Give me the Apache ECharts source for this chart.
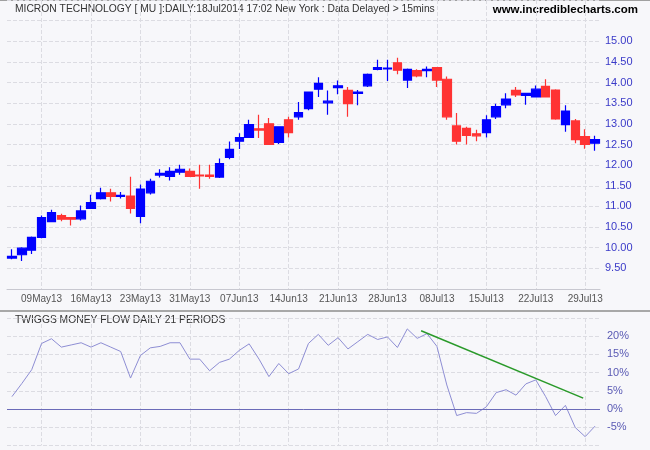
<!DOCTYPE html>
<html><head><meta charset="utf-8">
<script src="https://cdn.jsdelivr.net/npm/echarts@6/dist/echarts.min.js"></script>
<style>html,body{margin:0;padding:0;background:#f7f7fa}#c{width:650px;height:450px}</style>
</head><body><div id="c"></div>
<script>
const dates = ['06May13','07May13','08May13','09May13','10May13','13May13','14May13','15May13','16May13','17May13','20May13','21May13','22May13','23May13','24May13','28May13','29May13','30May13','31May13',
'03Jun13','04Jun13','05Jun13','06Jun13','07Jun13','10Jun13','11Jun13','12Jun13','13Jun13','14Jun13','17Jun13','18Jun13','19Jun13','20Jun13','21Jun13','24Jun13','25Jun13','26Jun13','27Jun13','28Jun13',
'01Jul13','02Jul13','03Jul13','05Jul13','08Jul13','09Jul13','10Jul13','11Jul13','12Jul13','15Jul13','16Jul13','17Jul13','18Jul13','19Jul13','22Jul13','23Jul13','24Jul13','25Jul13','26Jul13','29Jul13','30Jul13'];
const tickLabels = ['09May13','16May13','23May13','31May13','07Jun13','14Jun13','21Jun13','28Jun13','08Jul13','15Jul13','22Jul13','29Jul13'];
const opens  = [9.75,9.83,9.94,10.25,10.63,10.78,10.73,10.70,10.95,11.19,11.33,11.24,11.25,10.76,11.33,11.76,11.73,11.83,11.85,11.76,11.76,11.71,12.19,12.58,12.67,12.88,13.00,12.55,13.10,13.17,13.37,13.84,13.51,13.88,13.81,13.74,13.92,14.32,14.33,14.48,14.06,14.29,14.29,14.36,14.08,12.95,12.89,12.76,12.79,13.17,13.46,13.81,13.69,13.65,13.91,13.82,12.98,13.07,12.69,12.53];
const highs  = [9.96,10.01,10.27,10.78,10.92,10.82,10.74,11.02,11.28,11.45,11.43,11.35,11.72,11.53,11.67,11.90,11.95,12.01,11.92,12.01,12.01,12.16,12.57,12.77,13.10,13.22,13.14,12.94,13.17,13.53,13.77,14.13,13.81,14.05,13.89,13.82,14.22,14.55,14.55,14.60,14.34,14.32,14.39,14.36,14.15,13.26,12.93,12.86,13.21,13.49,13.74,13.89,13.74,13.93,14.08,13.84,13.45,13.12,12.87,12.71];
const lows   = [9.72,9.68,9.85,10.23,10.63,10.64,10.54,10.66,10.95,11.17,11.12,11.19,10.83,10.59,11.29,11.70,11.63,11.77,11.73,11.43,11.67,11.69,12.14,12.39,12.67,12.66,12.49,12.51,12.67,13.10,13.33,13.65,13.22,13.72,13.17,13.45,13.89,14.30,14.04,14.20,13.87,14.13,14.13,13.89,13.10,12.50,12.50,12.58,12.67,13.12,13.38,13.65,13.46,13.65,13.65,13.10,12.81,12.53,12.40,12.35];
const closes = [9.79,9.99,10.25,10.73,10.85,10.69,10.69,10.89,11.09,11.33,11.24,11.27,10.95,11.42,11.61,11.80,11.85,11.90,11.73,11.74,11.73,12.04,12.38,12.67,12.98,12.85,12.50,12.93,12.79,13.27,13.77,13.98,13.55,13.92,13.49,13.77,14.20,14.36,14.35,14.30,14.32,14.16,14.32,14.06,13.17,12.58,12.72,12.71,13.10,13.42,13.60,13.70,13.74,13.84,13.65,13.12,13.31,12.62,12.50,12.62];
const moneyFlow = [3.4,7.0,10.8,18.0,19.3,17.0,17.6,18.2,17.0,18.2,17.0,15.8,8.5,14.7,16.8,17.2,18.2,18.2,13.7,13.7,10.5,12.8,13.7,16.1,17.9,13.7,8.9,12.5,9.7,11.0,18.0,20.5,17.5,19.6,16.5,18.5,20.5,19.1,19.8,16.9,22.0,19.4,20.7,17.2,6.6,-1.8,-1.0,-1.2,0.6,4.5,5.3,3.8,6.9,8.0,3.4,-1.8,1.0,-5.1,-7.6,-4.7];
const trendX = [41.4, 57.8];
const trendY = [21.5, 3.0];
const priceLabels = ['9.50','10.00','10.50','11.00','11.50','12.00','12.50','13.00','13.50','14.00','14.50','15.00'];
const mfLabels = ['-5%','0%','5%','10%','15%','20%'];

const ohlc = dates.map((d,i)=>[opens[i], closes[i], lows[i], highs[i]]);
const trend = trendX.map((x,i)=>[x, trendY[i]]);
const showTick = (i, v) => tickLabels.indexOf(v) >= 0;
const gridLine = {color:'#dcdce2', width:1, type:[4,2]};

const chart = echarts.init(document.getElementById('c'), null, {renderer:'canvas'});
chart.setOption({
  animation:false,
  backgroundColor:'#f7f7fa',
  grid:[
    {left:7, right:50, top:-3, height:292},
    {left:7, right:50, top:318, height:127.4}
  ],
  xAxis:[
    {type:'category', gridIndex:0, data:dates, boundaryGap:true,
     axisLine:{show:true, lineStyle:{color:'#c8c8d0'}}, axisTick:{show:false},
     axisLabel:{interval:showTick, color:'#555', fontSize:10, fontFamily:'Liberation Sans', margin:5},
     splitLine:{show:true, interval:showTick, alignWithLabel:true, lineStyle:gridLine}},
    {type:'category', gridIndex:1, data:dates, boundaryGap:true,
     axisLine:{show:false}, axisTick:{show:false}, axisLabel:{show:false},
     splitLine:{show:true, interval:showTick, alignWithLabel:true, lineStyle:gridLine}},
    {type:'value', gridIndex:1, min:-0.5, max:59.5, show:false}
  ],
  yAxis:[
    {type:'value', gridIndex:0, position:'right', min:9, max:16, interval:0.5,
     axisLine:{show:false}, axisTick:{show:false},
     axisLabel:{color:'#3a3ac8', fontSize:11, fontFamily:'Liberation Sans', margin:5,
       formatter:v=>{const s=v.toFixed(2); return priceLabels.indexOf(s)>=0?s:'';}},
     splitLine:{show:true, lineStyle:gridLine}},
    {type:'value', gridIndex:1, position:'right', min:-10, max:25, interval:5,
     axisLine:{show:false}, axisTick:{show:false},
     axisLabel:{color:'#5a5ab4', fontSize:11, fontFamily:'Liberation Sans', margin:7,
       formatter:v=>{const s=Math.round(v)+'%'; return mfLabels.indexOf(s)>=0?s:'';}},
     splitLine:{show:true, lineStyle:gridLine}}
  ],
  series:[
    {type:'candlestick', xAxisIndex:0, yAxisIndex:0, data:ohlc, barWidth:9,
     itemStyle:{color:'#0000ff', color0:'#ff3333', borderColor:'#0000ff', borderColor0:'#ff3333', borderWidth:1.2}},
    {type:'line', xAxisIndex:1, yAxisIndex:1, data:moneyFlow, symbol:'none',
     lineStyle:{color:'#8e8ed4', width:1},
     markLine:{silent:true, symbol:'none', label:{show:false},
       lineStyle:{color:'#6b6bb8', width:1, type:'solid'}, data:[{yAxis:0}]}},
    {type:'line', xAxisIndex:2, yAxisIndex:1, data:trend, symbol:'none',
     lineStyle:{color:'#2a9a2a', width:1.5}}
  ],
  graphic:[
    {type:'rect', left:0, top:0, shape:{width:650, height:1}, style:{fill:'#a0a0a0'}},
    {type:'rect', left:0, top:310, shape:{width:650, height:2}, style:{fill:'#a8a8a8'}},
    {type:'text', left:15, top:4, style:{text:'MICRON TECHNOLOGY [ MU ]:DAILY:18Jul2014 17:02 New York : Data Delayed > 15mins', fill:'#333', font:'10.3px "Liberation Sans"'}},
    {type:'text', right:12, top:4, style:{text:'www.incrediblecharts.com', fill:'#000', font:'bold 11.5px "Liberation Sans"'}},
    {type:'text', left:15, top:315, style:{text:'TWIGGS MONEY FLOW DAILY 21 PERIODS', fill:'#333', font:'10.3px "Liberation Sans"'}}
  ]
});
</script></body></html>
